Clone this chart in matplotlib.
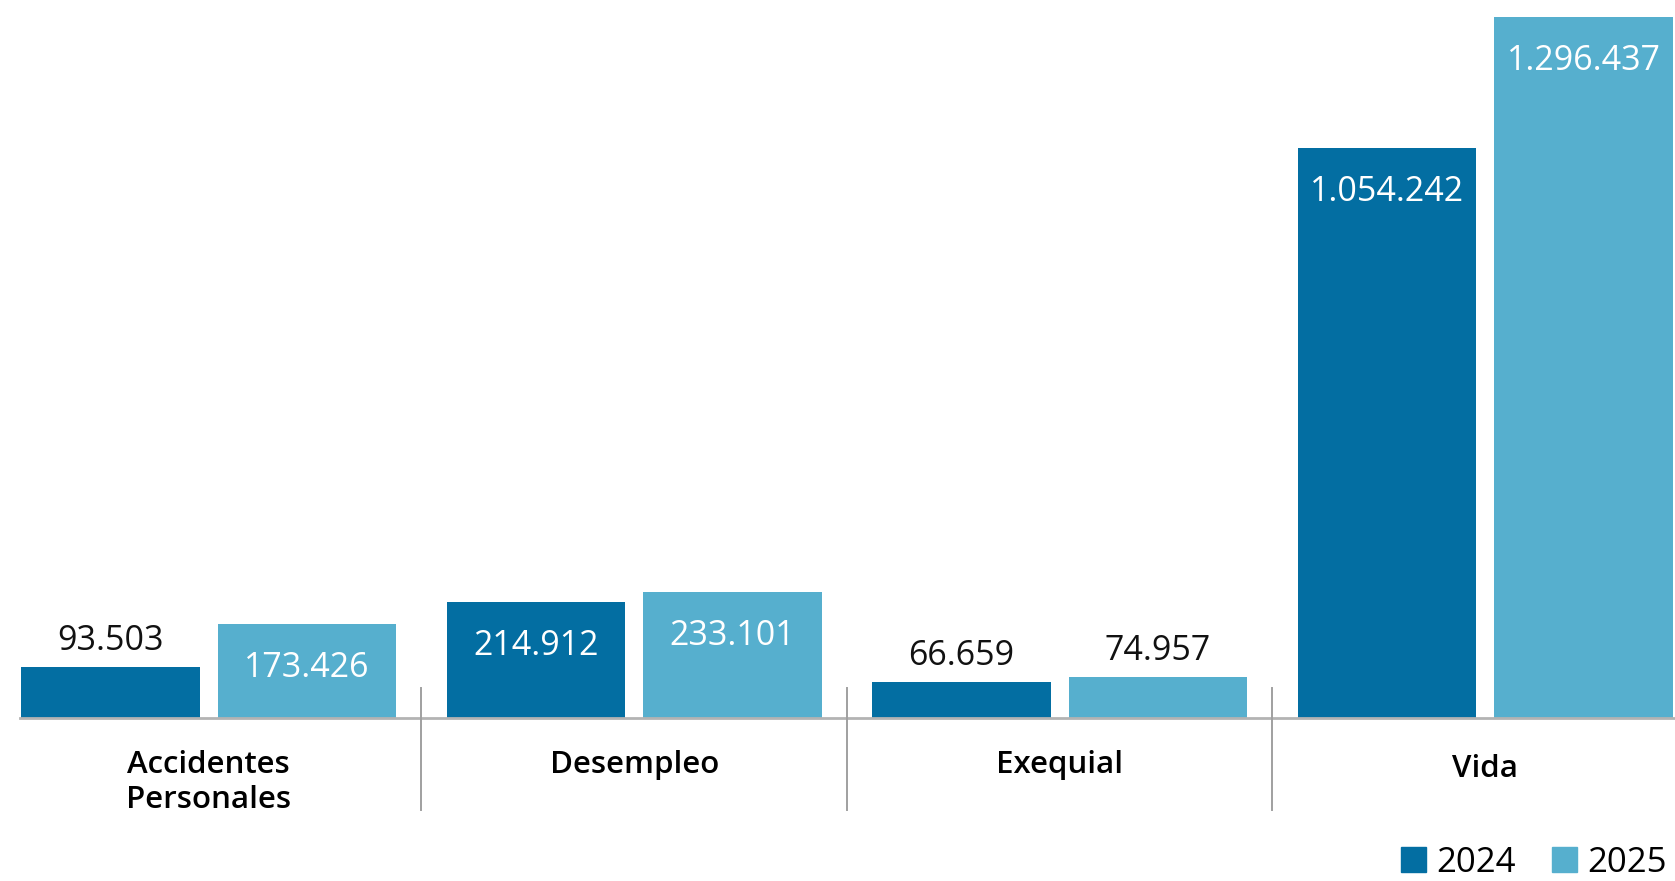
import matplotlib
matplotlib.use('Agg')
import matplotlib.pyplot as plt
from matplotlib.patches import Patch
import numpy as np

plt.rcParams['font.family'] = ['Open Sans', 'DejaVu Sans']

# Datos
categorias = ['Accidentes\nPersonales', 'Desempleo', 'Exequial', 'Vida']
anios = ['2024', '2025']
valores_2024 = [93503, 214912, 66659, 1054242]
valores_2025 = [173426, 233101, 74957, 1296437]

color_2024 = '#036ea2'
color_2025 = '#56afce'

def fmt(v):
    return f'{v:,}'.replace(',', '.')

fig = plt.figure(figsize=(16.75, 8.81), dpi=100)
ax = fig.add_axes([0, 0.185, 1, 0.815])

x = np.arange(len(categorias)) + 0.5
ancho = 0.419
desp = 0.231

b1 = ax.bar(x - desp, valores_2024, ancho, color=color_2024)
b2 = ax.bar(x + desp, valores_2025, ancho, color=color_2025)

ymax = max(valores_2025) * 718 / 701
ax.set_ylim(0, ymax)
ax.set_xlim(0.0094, 3.946)
ax.axis('off')

# etiquetas de valores
px = ymax / 718  # unidades de datos por pixel
for barras in (b1, b2):
    for rect in barras:
        v = rect.get_height()
        xc = rect.get_x() + rect.get_width() / 2
        if v > 100000:
            ax.text(xc, v - 44 * px, fmt(int(v)), ha='center', va='center',
                    color='white', fontsize=24.5, fontweight='medium')
        else:
            ax.text(xc, v + 26 * px, fmt(int(v)), ha='center', va='center',
                    color='#111111', fontsize=24.5, fontweight='medium')

# linea base y separadores
trans = ax.get_xaxis_transform()
ax.plot([0.056, 3.946], [0, 0], transform=trans, color='#b3b3b3', lw=2, clip_on=False)
for s in [1, 2, 3]:
    ax.plot([s, s], [0.042, -0.128], transform=trans, color='#a0a0a0', lw=1.4, clip_on=False)

for xi, cat in zip(x, categorias):
    y_txt = -0.05 if cat == 'Vida' else -0.044
    ax.text(xi, y_txt, cat, transform=trans, ha='center', va='top',
            fontsize=22.5, fontweight='semibold', linespacing=1.22)

handles = [Patch(color=color_2024), Patch(color=color_2025)]
fig.legend(handles, anios, loc='lower right', bbox_to_anchor=(1.014, -0.034), ncol=2,
           frameon=False, fontsize=25, handlelength=0.72, handleheight=0.72,
           handletextpad=0.3, columnspacing=1.05)

fig.savefig('out.png', dpi=100)
